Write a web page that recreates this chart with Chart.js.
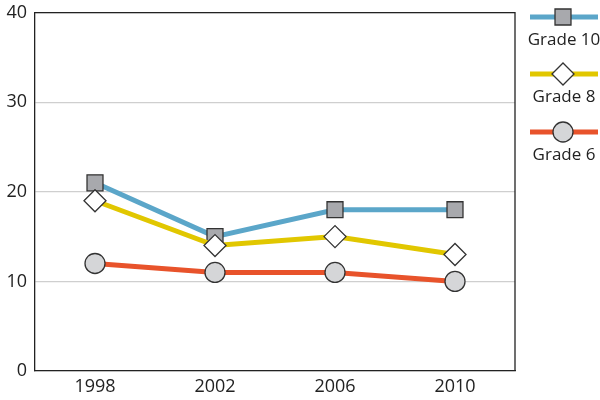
<!DOCTYPE html>
<html>
<head>
<meta charset="utf-8">
<script src="https://cdn.jsdelivr.net/npm/chart.js@4/dist/chart.umd.min.js"></script>
<style>
  html, body { margin: 0; padding: 0; background: #fff; }
  #wrap { width: 600px; height: 400px; }
</style>
</head>
<body>
<div id="wrap"><canvas id="chart" width="600" height="400"></canvas></div>
<script>
const years = ["1998", "2002", "2006", "2010"];
const grade10 = [21, 15, 18, 18];
const grade8 = [19, 14, 15, 13];
const grade6 = [12, 11, 11, 10];
const yTicks = [0, 10, 20, 30, 40];

const FONT = "'Open Sans', 'Noto Sans', sans-serif";

// series styling, listed in the order they appear in the legend
const series = [
  { label: "Grade 10", data: grade10, color: "#5ba6c9", style: "rect", radius: 11.3, fill: "#a8a9ad" },
  { label: "Grade 8", data: grade8, color: "#e1c700", style: "rectRot", radius: 11, fill: "#ffffff" },
  { label: "Grade 6", data: grade6, color: "#e8532b", style: "circle", radius: 10, fill: "#d5d6d8" }
];

// legend on the right: line + marker, label underneath
const sideLegend = {
  id: "sideLegend",
  afterDraw(chart) {
    const ctx = chart.ctx;
    const rows = [17, 74, 132];
    series.forEach((s, i) => {
      const y = rows[i];
      ctx.save();
      ctx.strokeStyle = s.color;
      ctx.lineWidth = 5;
      ctx.beginPath();
      ctx.moveTo(530, y);
      ctx.lineTo(598, y);
      ctx.stroke();
      ctx.fillStyle = s.fill;
      ctx.strokeStyle = "#333";
      ctx.lineWidth = 1.3;
      Chart.helpers.drawPoint(ctx, { pointStyle: s.style, radius: s.radius, borderWidth: 1.3 }, 563, y);
      ctx.fillStyle = "#222";
      ctx.font = "17px " + FONT;
      ctx.textAlign = "center";
      ctx.textBaseline = "middle";
      ctx.fillText(s.label, 564, y + 23);
      ctx.restore();
    });
  }
};

// top and right edges of the plot frame
const frame = {
  id: "frame",
  beforeDatasetsDraw(chart) {
    const a = chart.chartArea;
    const ctx = chart.ctx;
    ctx.save();
    ctx.strokeStyle = "#222";
    ctx.lineWidth = 1.3;
    ctx.beginPath();
    ctx.moveTo(a.left, a.top);
    ctx.lineTo(a.right, a.top);
    ctx.lineTo(a.right, a.bottom);
    ctx.stroke();
    ctx.restore();
  }
};

new Chart(document.getElementById("chart"), {
  type: "line",
  data: {
    labels: years,
    datasets: series.slice().reverse().map(s => ({
      label: s.label,
      data: s.data,
      borderColor: s.color,
      borderWidth: 5,
      pointStyle: s.style,
      pointRadius: s.radius,
      pointHoverRadius: s.radius,
      pointBackgroundColor: s.fill,
      pointBorderColor: "#333",
      pointBorderWidth: 1.3,
      tension: 0
    }))
  },
  options: {
    responsive: false,
    animation: false,
    layout: { padding: { left: 0, right: 85, top: 11, bottom: 0 } },
    plugins: {
      legend: { display: false },
      tooltip: { enabled: false }
    },
    scales: {
      x: {
        offset: true,
        grid: { display: false, drawTicks: false },
        border: { color: "#222", width: 1.3 },
        ticks: { color: "#222", font: { family: FONT, size: 18 }, padding: 5 },
        afterFit(scale) { scale.height = 29; scale.paddingLeft = 0; scale.paddingRight = 0; }
      },
      y: {
        min: 0,
        max: 40,
        afterBuildTicks(scale) { scale.ticks = yTicks.map(v => ({ value: v })); },
        grid: { color: "#cfcfcf", lineWidth: 1.3, drawTicks: false },
        border: { color: "#222", width: 1.3 },
        ticks: { color: "#222", font: { family: FONT, size: 18 }, padding: 8 },
        afterFit(scale) { scale.width = 35; scale.paddingTop = 0; scale.paddingBottom = 0; }
      }
    }
  },
  plugins: [frame, sideLegend]
});
</script>
</body>
</html>
